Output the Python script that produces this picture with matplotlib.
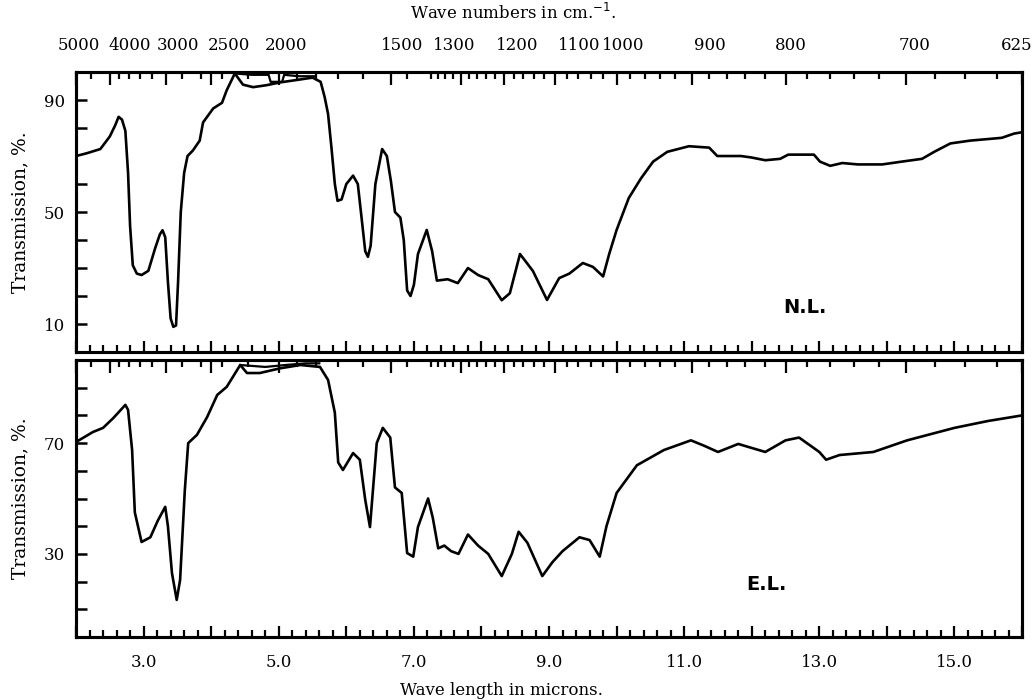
import numpy as np
import matplotlib.pyplot as plt
from matplotlib.ticker import FixedLocator, FixedFormatter, NullFormatter
from matplotlib.transforms import blended_transform_factory, offset_copy

# spettro N.L. (pannello superiore): lunghezza d'onda in micron, trasmissione %
wl_nl = [2.0, 2.16, 2.36, 2.5, 2.58, 2.63, 2.68, 2.73, 2.77, 2.8, 2.84, 2.9, 2.97, 3.07, 3.17,
         3.24, 3.28, 3.32, 3.36, 3.4, 3.44, 3.48, 3.51, 3.55, 3.6, 3.65, 3.73, 3.83, 3.88, 4.03,
         4.16, 4.23, 4.35, 4.47, 4.62, 4.82, 5.02, 5.22, 5.5, 5.62, 5.68, 5.73, 5.78, 5.83, 5.87,
         5.93, 6.0, 6.1, 6.17, 6.23, 6.28, 6.32, 6.36, 6.43, 6.53, 6.6, 6.66, 6.72, 6.8, 6.85,
         6.9, 6.95, 7.0, 7.06, 7.19, 7.27, 7.34, 7.5, 7.65, 7.8, 7.95, 8.1, 8.3, 8.42, 8.57,
         8.76, 8.97, 9.15, 9.3, 9.5, 9.65, 9.8, 9.89, 10.0, 10.18, 10.36, 10.54, 10.75, 11.07,
         11.37, 11.49, 11.84, 11.99, 12.2, 12.42, 12.54, 12.92, 13.01, 13.16, 13.34, 13.57,
         13.93, 14.22, 14.52, 14.7, 14.94, 15.23, 15.7, 15.88, 16.0]
tr_nl = [70, 71, 72.5, 77, 81, 84, 83, 79, 64, 45, 31, 28, 27.5, 29, 37,
         42, 43.5, 41, 25, 12, 9, 9.5, 25, 50, 64, 70, 72, 75.5, 82, 87,
         89, 93.5, 99.5, 95.5, 94.6, 95.3, 96.3, 97, 98, 96.5, 91, 85, 73, 60, 54,
         54.5, 60, 63, 60, 47, 36, 34, 38, 60, 72.5, 70, 61, 50, 48, 40,
         22, 20, 24, 35, 43.6, 36, 25.5, 26, 24.6, 30, 27.5, 26, 18.5, 21, 35,
         29, 18.6, 26.4, 28, 31.8, 30.4, 27, 35, 43.6, 55, 62, 68, 71.5, 73.5,
         73, 70, 70, 69.5, 68.5, 69, 70.5, 70.5, 68, 66.5, 67.5, 67,
         67, 68, 69, 71.5, 74.5, 75.5, 76.5, 78, 78.5]

# spettro E.L. (pannello inferiore)
wl_el = [2.0, 2.25, 2.4, 2.55, 2.73, 2.77, 2.83, 2.87, 2.97, 3.1, 3.21, 3.32, 3.36, 3.42, 3.49,
         3.54, 3.61, 3.66, 3.79, 3.94, 4.09, 4.23, 4.43, 4.53, 4.72, 5.02, 5.32, 5.61, 5.73,
         5.83, 5.88, 5.95, 6.1, 6.2, 6.28, 6.35, 6.45, 6.54, 6.65, 6.72, 6.82, 6.9, 6.99, 7.06,
         7.21, 7.28, 7.36, 7.45, 7.55, 7.66, 7.8, 7.95, 8.1, 8.3, 8.45, 8.55, 8.68, 8.9, 9.05,
         9.2, 9.45, 9.6, 9.75, 9.85, 10.0, 10.3, 10.7, 11.1, 11.3, 11.5, 11.8, 12.2, 12.5, 12.7,
         13.0, 13.1, 13.3, 13.8, 14.3, 15.0, 15.5, 16.0]
tr_el = [70.4, 74, 75.5, 79, 83.8, 82, 67.5, 45, 34.3, 36, 42, 47, 40, 23, 13.4,
         20.6, 53, 70, 73, 79.4, 87.4, 90.3, 98.2, 95.3, 95.3, 97, 98.2, 97.5, 92.8,
         81, 63, 60.3, 66.4, 64, 49.5, 39.7, 70, 75.5, 72, 54, 52, 30.3, 29, 39.7,
         50, 43, 32, 33, 31, 30, 37, 33, 30, 22, 30, 38, 34, 22, 27,
         31, 36, 35, 29, 40, 52, 62, 67.5, 71, 69, 66.8, 69.7, 66.8, 71, 72,
         66.8, 64, 65.7, 66.8, 71, 75.5, 78, 80]

# secondo tratto del pennino vicino al 100 %
wl_nl_up = [4.35, 4.6, 4.85, 4.88, 5.05, 5.08, 5.3, 5.55]
tr_nl_up = [99.5, 99, 99, 96.5, 96.5, 99, 98.5, 98.5]
wl_el_up = [4.43, 4.8, 5.1, 5.4, 5.6]
tr_el_up = [98.2, 97.5, 98.2, 98.8, 98.8]

# numeri d'onda (cm-1) dell'asse superiore
wn_major = [5000, 4000, 3000, 2500, 2000, 1500, 1300, 1200, 1100, 1000, 900, 800, 700, 625]
wn_minor = ([4500] + list(range(3800, 2000, -200)) + list(range(1900, 1500, -100)) + [1450]
            + list(range(1380, 1000, -20)) + list(range(980, 625, -20)))
wn_label_dx = [3, 20, 12, 18, 7, 11, -6, 13, 24, 7, 18, 5, 8, -5]

# lunghezze d'onda dell'asse inferiore
wl_major = np.arange(2, 16.01, 1.0)
wl_minor = np.arange(2, 16.01, 0.2)
wl_labels = ['%.1f' % v if int(round(v)) % 2 == 1 else '' for v in wl_major]

serif = 'DejaVu Serif'
fig = plt.figure(figsize=(10.33, 7.0), dpi=100)
ax1 = fig.add_axes([0.0736, 0.4971, 0.9158, 0.4])
ax2 = fig.add_axes([0.0736, 0.09, 0.9158, 0.3957])


def setup_panel(ax, yticks, ylabels):
    ax.set_xlim(2, 16)
    ax.set_ylim(0, 100)
    for s in ax.spines.values():
        s.set_linewidth(2.2)
    ax.xaxis.set_major_locator(FixedLocator(wl_major))
    ax.xaxis.set_minor_locator(FixedLocator(wl_minor))
    ax.tick_params(axis='x', which='major', direction='in', length=8, width=1.6)
    ax.tick_params(axis='x', which='minor', direction='in', length=5, width=1.6)
    ax.set_yticks(yticks)
    ax.set_yticklabels(ylabels, fontfamily=serif, fontsize=12)
    ax.tick_params(axis='y', direction='in', length=8, width=1.8, pad=8)
    ax.set_ylabel('Transmission, %.', fontfamily=serif, fontsize=13.5, labelpad=10)
    # asse superiore in numeri d'onda
    top = ax.twiny()
    top.set_xlim(2, 16)
    top.xaxis.set_major_locator(FixedLocator([1e4 / w for w in wn_major]))
    top.xaxis.set_minor_locator(FixedLocator([1e4 / w for w in wn_minor]))
    top.xaxis.set_major_formatter(NullFormatter())
    top.tick_params(axis='x', which='major', direction='in', length=9, width=1.6)
    top.tick_params(axis='x', which='minor', direction='in', length=5, width=1.6)
    for s in top.spines.values():
        s.set_linewidth(2.2)
    return top


setup_panel(ax1, [10, 20, 30, 40, 50, 60, 80, 90],
            ['10', '', '', '', '50', '', '', '90'])
setup_panel(ax2, [10, 20, 30, 40, 50, 60, 70, 80, 90],
            ['', '', '30', '', '', '', '70', '', ''])

ax1.xaxis.set_major_formatter(NullFormatter())
ax2.xaxis.set_major_formatter(FixedFormatter(wl_labels))
for lab in ax2.get_xticklabels():
    lab.set_fontfamily(serif)
ax2.tick_params(axis='x', labelsize=12, pad=12)

ax1.plot(wl_nl, tr_nl, color='black', lw=1.9, solid_joinstyle='round')
ax1.plot(wl_nl_up, tr_nl_up, color='black', lw=1.6)
ax2.plot(wl_el, tr_el, color='black', lw=1.9, solid_joinstyle='round')
ax2.plot(wl_el_up, tr_el_up, color='black', lw=1.6)

ax1.text(0.77, 0.16, 'N.L.', transform=ax1.transAxes, ha='center', va='center',
         fontfamily='DejaVu Sans', fontweight='bold', fontsize=14)
ax2.text(0.73, 0.19, 'E.L.', transform=ax2.transAxes, ha='center', va='center',
         fontfamily='DejaVu Sans', fontweight='bold', fontsize=14)

# etichette dei numeri d'onda sopra il pannello superiore
trans = blended_transform_factory(ax1.transData, ax1.transAxes)
for w, dx in zip(wn_major, wn_label_dx):
    t = offset_copy(trans, fig=fig, x=dx, y=27, units='dots')
    ax1.text(1e4 / w, 1.0, str(w), transform=t, ha='center', va='center',
             fontfamily=serif, fontsize=12, clip_on=False)

fig.text(0.497, 0.981, 'Wave numbers in cm.$^{-1}$.', ha='center', va='center',
         fontfamily=serif, fontsize=12)
fig.text(0.485, 0.014, 'Wave length in microns.', ha='center', va='center',
         fontfamily=serif, fontsize=12)

fig.savefig('out.png', dpi=100)
